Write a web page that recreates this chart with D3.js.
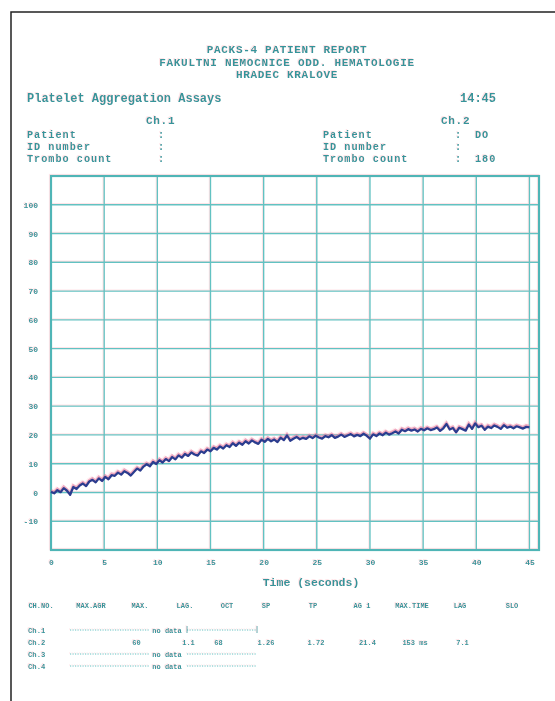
<!DOCTYPE html>
<html>
<head>
<meta charset="utf-8">
<script src="https://cdn.jsdelivr.net/npm/d3@7"></script>
<style>
  html, body { margin: 0; padding: 0; background: #ffffff; }
  svg { display: block; }
  text { font-family: "Liberation Mono", "DejaVu Sans Mono", monospace; font-weight: bold; }
</style>
</head>
<body>
<svg id="chart" width="555" height="701"></svg>
<script>
// ---------------- DATA ----------------
const headerLines = ["PACKS-4 PATIENT REPORT", "FAKULTNI NEMOCNICE ODD. HEMATOLOGIE", "HRADEC KRALOVE"];
const assayTitle = "Platelet Aggregation Assays";
const reportTime = "14:45";
const infoLabels = ["Patient", "ID number", "Trombo count"];
const ch1Values = ["", "", ""];
const ch2Values = ["DO", "", "180"];

const xTicks = [0, 5, 10, 15, 20, 25, 30, 35, 40, 45];
const yTicks = [-10, 0, 10, 20, 30, 40, 50, 60, 70, 80, 90, 100];
const xDomain = [0, 45.9];
const yDomain = [-20, 110];
const xTitle = "Time (seconds)";

const sampleStep = 0.3; // seconds between recorded samples
const aggregation = [
  0.2, -0.3, 0.8, 0.1, 1.5, 0.6, -0.8, 1.9, 1.2, 2.4,
  3.1, 2.2, 3.8, 4.4, 3.5, 4.9, 4.0, 5.4, 4.6, 6.0,
  5.8, 6.9, 6.2, 7.4, 6.8, 5.9, 7.1, 8.3, 7.6, 9.0,
  9.8, 9.1, 10.6, 9.9, 11.2, 10.4, 11.6, 10.9, 12.3, 11.5,
  12.9, 12.1, 13.4, 12.7, 13.9, 13.2, 12.8, 14.3, 13.7, 14.9,
  14.3, 15.5, 14.9, 16.0, 15.3, 16.4, 15.8, 17.1, 16.2, 17.3,
  16.6, 17.8, 17.0, 18.1, 17.4, 16.9, 18.3, 17.6, 18.6, 17.8,
  18.4, 17.5, 19.0, 18.2, 19.8, 18.0, 18.7, 19.3, 18.5, 19.0,
  18.6, 19.5, 18.9, 19.7, 19.1, 18.7, 19.6, 19.2, 19.9, 19.0,
  19.4, 20.1, 19.3, 19.8, 20.3, 19.5, 20.0, 19.6, 20.4, 19.7,
  18.7, 20.2, 19.6, 20.5, 19.9, 20.8, 20.1, 20.6, 21.2, 20.5,
  21.8, 21.3, 22.0, 21.5, 21.9, 21.2, 22.1, 21.6, 22.3, 21.7,
  22.0, 22.6, 21.4, 22.3, 23.8, 21.9, 22.4, 20.9, 22.5, 22.0,
  21.5, 23.6, 22.1, 24.0, 22.7, 23.2, 21.8, 22.9, 22.4, 23.3,
  22.8, 22.1, 23.4, 22.5, 22.9, 22.3, 23.0, 22.6, 22.2, 22.8,
  22.6
];

const tableHeaders = ["CH.NO.", "MAX.AGR", "MAX.", "LAG.", "OCT", "SP", "TP", "AG 1", "MAX.TIME", "LAG", "SLO"];
const channels = ["Ch.1", "Ch.2", "Ch.3", "Ch.4"];
const ch2Results = ["60", "1.1", "68", "1.26", "1.72", "21.4", "153 ms", "7.1"];
const noDataText = "no data";

// ---------------- LAYOUT ----------------
const TEXT = "#35949a";
const GRID = "#62c2c2";
const svg = d3.select("#chart");

const defs = svg.append("defs");
const f = defs.append("filter").attr("id", "ca").attr("x", "-5%").attr("y", "-5%").attr("width", "110%").attr("height", "110%");
f.append("feGaussianBlur").attr("in", "SourceGraphic").attr("stdDeviation", 0.55).attr("result", "b");
f.append("feOffset").attr("in", "b").attr("dx", -1).attr("dy", -1).attr("result", "o");
f.append("feColorMatrix").attr("in", "o").attr("type", "matrix")
  .attr("values", "0 0 0 0 1  0 0 0 0 0.45  0 0 0 0 0.5  0 0 0 0.35 0").attr("result", "r");
const fm = f.append("feMerge");
fm.append("feMergeNode").attr("in", "r");
fm.append("feMergeNode").attr("in", "b");

// page frame
svg.append("rect").attr("x", 11).attr("y", 12).attr("width", 600).attr("height", 720)
  .attr("fill", "none").attr("stroke", "#222").attr("stroke-width", 1.5);

const g = svg.append("g").attr("filter", "url(#ca)");

// header
g.selectAll(".hdr").data(headerLines).join("text")
  .attr("x", 287).attr("y", (d, i) => 53 + i * 12.5)
  .attr("text-anchor", "middle").attr("font-size", 11).attr("letter-spacing", 0.7)
  .attr("fill", TEXT).text(d => d);

g.append("text").attr("x", 27).attr("y", 102).attr("font-size", 12).attr("fill", TEXT).text(assayTitle);
g.append("text").attr("x", 460).attr("y", 102).attr("font-size", 12).attr("fill", TEXT).text(reportTime);

g.append("text").attr("x", 146).attr("y", 124).attr("font-size", 11).attr("letter-spacing", 0.7).attr("fill", TEXT).text("Ch.1");
g.append("text").attr("x", 441).attr("y", 124).attr("font-size", 11).attr("letter-spacing", 0.7).attr("fill", TEXT).text("Ch.2");

const rowY = [137.5, 149.5, 161.5];
const rowFont = 10.2, rowLS = 1.0;
infoLabels.forEach((lab, i) => {
  g.append("text").attr("x", 27).attr("y", rowY[i]).attr("font-size", rowFont).attr("letter-spacing", rowLS).attr("fill", TEXT).text(lab);
  g.append("text").attr("x", 158).attr("y", rowY[i]).attr("font-size", rowFont).attr("fill", TEXT).text(":");
  g.append("text").attr("x", 323).attr("y", rowY[i]).attr("font-size", rowFont).attr("letter-spacing", rowLS).attr("fill", TEXT).text(lab);
  g.append("text").attr("x", 455).attr("y", rowY[i]).attr("font-size", rowFont).attr("fill", TEXT).text(":");
  if (ch1Values[i]) g.append("text").attr("x", 178).attr("y", rowY[i]).attr("font-size", rowFont).attr("letter-spacing", rowLS).attr("fill", TEXT).text(ch1Values[i]);
  if (ch2Values[i]) g.append("text").attr("x", 475).attr("y", rowY[i]).attr("font-size", rowFont).attr("letter-spacing", rowLS).attr("fill", TEXT).text(ch2Values[i]);
});

// plot
const L = 51, R = 539, T = 176, B = 550;
const x = d3.scaleLinear().domain(xDomain).range([L, R]);
const y = d3.scaleLinear().domain(yDomain).range([B, T]);

// grid
g.append("g").selectAll("line").data(xTicks).join("line")
  .attr("x1", d => x(d)).attr("x2", d => x(d)).attr("y1", T).attr("y2", B)
  .attr("stroke", GRID).attr("stroke-width", 1.4);
g.append("g").selectAll("line").data(yTicks).join("line")
  .attr("x1", L).attr("x2", R).attr("y1", d => y(d)).attr("y2", d => y(d))
  .attr("stroke", GRID).attr("stroke-width", 1.4);

g.append("rect").attr("x", L).attr("y", T).attr("width", R - L).attr("height", B - T)
  .attr("fill", "none").attr("stroke", "#4fb5b6").attr("stroke-width", 2.2);

// axes (labels only)
const fmt = d => String(d);
const yAxis = d3.axisLeft(y).tickValues(yTicks).tickSize(0).tickPadding(0).tickFormat(fmt);
const ya = g.append("g").attr("transform", `translate(38,0)`).call(yAxis);
ya.select(".domain").remove();
ya.selectAll("text").attr("font-size", 8).attr("fill", TEXT).attr("dy", "0.32em")
  .style("font-family", "'Liberation Mono', monospace").style("font-weight", "bold");

const xAxis = d3.axisBottom(x).tickValues(xTicks).tickSize(0).tickPadding(0).tickFormat(fmt);
const xa = g.append("g").attr("transform", `translate(0,560)`).call(xAxis);
xa.select(".domain").remove();
xa.selectAll("text").attr("font-size", 8).attr("fill", TEXT).attr("dy", "0.6em")
  .style("font-family", "'Liberation Mono', monospace").style("font-weight", "bold");

g.append("text").attr("x", 311).attr("y", 586).attr("text-anchor", "middle")
  .attr("font-size", 11.5).attr("fill", TEXT).text(xTitle);

// curve
const pts = aggregation.map((v, i) => [i * sampleStep, v]);
const line = d3.line().x(d => x(d[0])).y(d => y(d[1]));
g.append("path").datum(pts).attr("d", line).attr("fill", "none")
  .attr("stroke", "#e0709a").attr("stroke-width", 2.8).attr("opacity", 0.55)
  .attr("transform", "translate(0,-1.3)");
g.append("path").datum(pts).attr("d", line).attr("fill", "none")
  .attr("stroke", "#2b3d8f").attr("stroke-width", 2.3).attr("stroke-linejoin", "round");

// results table
const hdrX = [41, 91, 140, 185, 227, 266, 313, 362, 412, 460, 512];
tableHeaders.forEach((h, i) => {
  g.append("text").attr("x", hdrX[i]).attr("y", 607.5).attr("text-anchor", "middle")
    .attr("font-size", 7).attr("fill", TEXT).text(h);
});
const chY = [630, 642, 654, 666];
channels.forEach((c, i) => {
  g.append("text").attr("x", 28).attr("y", chY[i] + 2.5).attr("font-size", 7.2).attr("fill", TEXT).text(c);
});
[0, 2, 3].forEach(i => {
  g.append("line").attr("x1", 70).attr("x2", 150).attr("y1", chY[i]).attr("y2", chY[i])
    .attr("stroke", GRID).attr("stroke-width", 1).attr("stroke-dasharray", "1.2,1.3");
  g.append("text").attr("x", 167).attr("y", chY[i] + 2.5).attr("text-anchor", "middle")
    .attr("font-size", 7).attr("fill", TEXT).text(noDataText);
  g.append("line").attr("x1", 187).attr("x2", 257).attr("y1", chY[i]).attr("y2", chY[i])
    .attr("stroke", GRID).attr("stroke-width", 1).attr("stroke-dasharray", "1.2,1.3");
});
[187, 257].forEach(xx => {
  g.append("line").attr("x1", xx).attr("x2", xx).attr("y1", chY[0] - 4).attr("y2", chY[0] + 3)
    .attr("stroke", TEXT).attr("stroke-width", 0.8);
});
const resX = [136.5, 188.5, 218.5, 266, 316, 367.5, 415, 462.5];
ch2Results.forEach((v, i) => {
  g.append("text").attr("x", resX[i]).attr("y", chY[1] + 2.5).attr("text-anchor", "middle")
    .attr("font-size", 7).attr("fill", TEXT).text(v);
});
</script>
</body>
</html>
